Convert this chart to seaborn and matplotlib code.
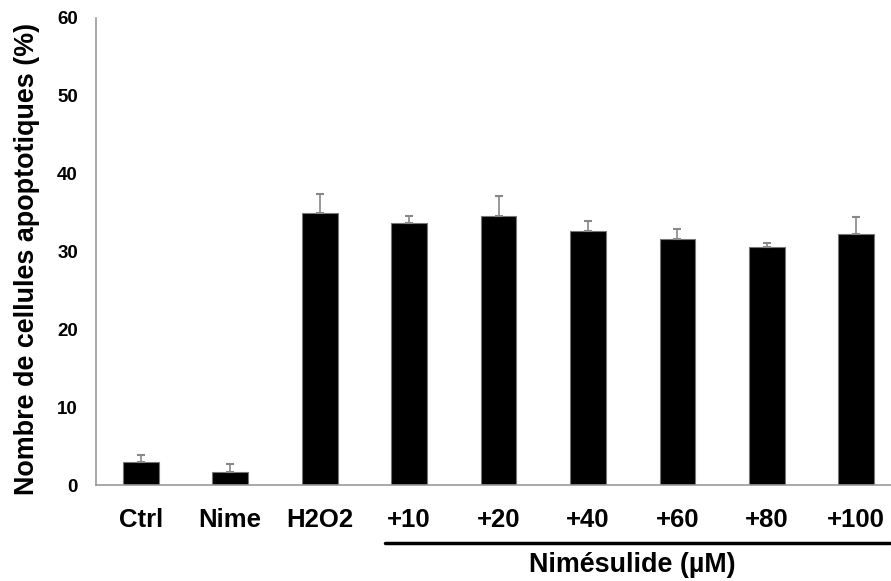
import numpy as np
import pandas as pd
import matplotlib
matplotlib.use("Agg")
import matplotlib.pyplot as plt
import matplotlib.transforms as mtransforms
import seaborn as sns

categories = ["Ctrl", "Nime", "H2O2", "+10", "+20", "+40", "+60", "+80", "+100"]
values = [3.0, 1.7, 34.9, 33.6, 34.6, 32.6, 31.6, 30.6, 32.3]
errors = [0.9, 1.0, 2.5, 1.0, 2.5, 1.3, 1.3, 0.5, 2.1]
y_ticks = [0, 10, 20, 30, 40, 50, 60]
y_label = "Nombre de cellules apoptotiques (%)"
group_label = "Nimésulide (µM)"

sns.set_theme(style="white")
plt.rcParams['font.family'] = ['Liberation Sans', 'DejaVu Sans']
plt.rcParams['text.color'] = 'black'
plt.rcParams['axes.labelcolor'] = 'black'
plt.rcParams['xtick.labelcolor'] = 'black'
plt.rcParams['ytick.labelcolor'] = 'black'

df = pd.DataFrame({"cat": categories, "val": values, "err": errors})

fig = plt.figure(figsize=(8.91, 5.81), dpi=100)
ax = fig.add_axes([96/891, 1-485/581, (901-96)/891, (485-18)/581])

sns.barplot(data=df, x="cat", y="val", order=categories, color="black",
            width=0.4, errorbar=None, edgecolor="#777777", linewidth=0.8,
            saturation=1, ax=ax)
ax.errorbar(np.arange(len(categories)), df["val"], yerr=[np.zeros(len(errors)), df["err"]],
            fmt="none", ecolor="#888888", elinewidth=1.2, capsize=3, capthick=1.5, zorder=3)

ax.set_xlim(-0.5, len(categories) - 0.5)
ax.set_ylim(0, 60)
ax.set_yticks(y_ticks)
ax.set_yticklabels([str(t) for t in y_ticks], fontsize=13.5, fontweight="bold", color="black")
ax.set_xticks(np.arange(len(categories)))
ax.set_xticklabels(categories, fontsize=18.5, fontweight="bold", color="black")
ax.set_xticks(np.arange(-0.5, len(categories), 1), minor=True)
ax.tick_params(axis="x", which="major", length=0, pad=16.5)
ax.tick_params(axis="x", which="minor", length=5, width=1, color="#999999", direction="out")
ax.tick_params(axis="y", which="major", length=5, width=1, color="#999999", direction="out", pad=8)
ax.set_xlabel("")
ax.set_ylabel(y_label, fontsize=19.4, fontweight="bold", color="black")
ax.yaxis.set_label_coords(-0.0696, 0.484)

for s in ["top", "right"]:
    ax.spines[s].set_visible(False)
for s in ["left", "bottom"]:
    ax.spines[s].set_color("#999999")
    ax.spines[s].set_linewidth(1.2)

trans = mtransforms.blended_transform_factory(ax.transData, ax.transAxes)
ax.plot([2.73, 8.38], [-0.124, -0.124], color="black", lw=2.5, transform=trans, clip_on=False)
ax.text(5.5, -0.1863, group_label, transform=trans, ha="center", va="baseline",
        fontsize=19.4, fontweight="bold", color="black")

fig.savefig("out.png", dpi=100)
